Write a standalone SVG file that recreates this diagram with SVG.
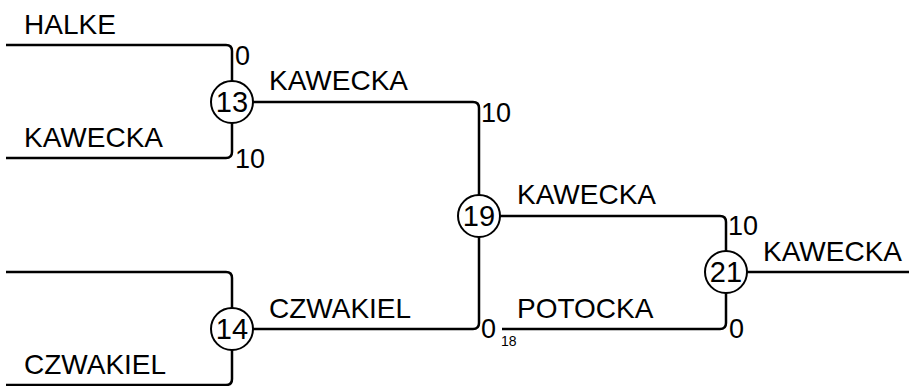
<svg xmlns="http://www.w3.org/2000/svg" width="909" height="386" viewBox="0 0 909 386">
<style>
.ln{fill:none;stroke:#000;stroke-width:2.5}
.nd{fill:#fff;stroke:#000;stroke-width:2}
text{font-family:"Liberation Sans",Arial,sans-serif;fill:#000}
.lb{font-size:28px}
.sc{font-size:27px}
.nn{font-size:29px;text-anchor:middle}
.sm{font-size:14px}
</style>
<rect width="909" height="386" fill="#fff"/>
<g id="connectors">
<path class="ln" d="M6 45H226Q232 45 232 51V81"/>
<path class="ln" d="M6 158H226Q232 158 232 152V123"/>
<path class="ln" d="M253 102H473Q479 102 479 108V195"/>
<path class="ln" d="M6 272H226Q232 272 232 278V308"/>
<path class="ln" d="M6 385H226Q232 385 232 379V350"/>
<path class="ln" d="M253 329H473Q479 329 479 323V237"/>
<path class="ln" d="M500 216H720Q726 216 726 222V251"/>
<path class="ln" d="M502 329H720Q726 329 726 323V293"/>
<path class="ln" d="M747 272H909"/>
</g>
<g id="labels">
<text class="lb" x="24" y="34">HALKE</text>
<text class="lb" x="24" y="147">KAWECKA</text>
<text class="sc" x="235" y="65">0</text>
<text class="sc" x="235" y="168">10</text>
<text class="lb" x="24" y="374">CZWAKIEL</text>
<text class="lb" x="269" y="90">KAWECKA</text>
<text class="sc" x="481" y="122">10</text>
<text class="lb" x="269" y="318">CZWAKIEL</text>
<text class="sc" x="481" y="338">0</text>
<text class="sm" x="501" y="346">18</text>
<text class="lb" x="517" y="204">KAWECKA</text>
<text class="sc" x="728" y="235">10</text>
<text class="lb" x="517" y="318">POTOCKA</text>
<text class="sc" x="729" y="338">0</text>
<text class="lb" x="763" y="261">KAWECKA</text>
</g>
<g id="n13"><circle class="nd" cx="232" cy="102" r="21"/><text class="nn" x="232" y="112">13</text></g>
<g id="n14"><circle class="nd" cx="232" cy="329" r="21"/><text class="nn" x="232" y="339">14</text></g>
<g id="n19"><circle class="nd" cx="479" cy="216" r="21"/><text class="nn" x="479" y="226">19</text></g>
<g id="n21"><circle class="nd" cx="726" cy="272" r="21"/><text class="nn" x="726" y="282">21</text></g>
</svg>
